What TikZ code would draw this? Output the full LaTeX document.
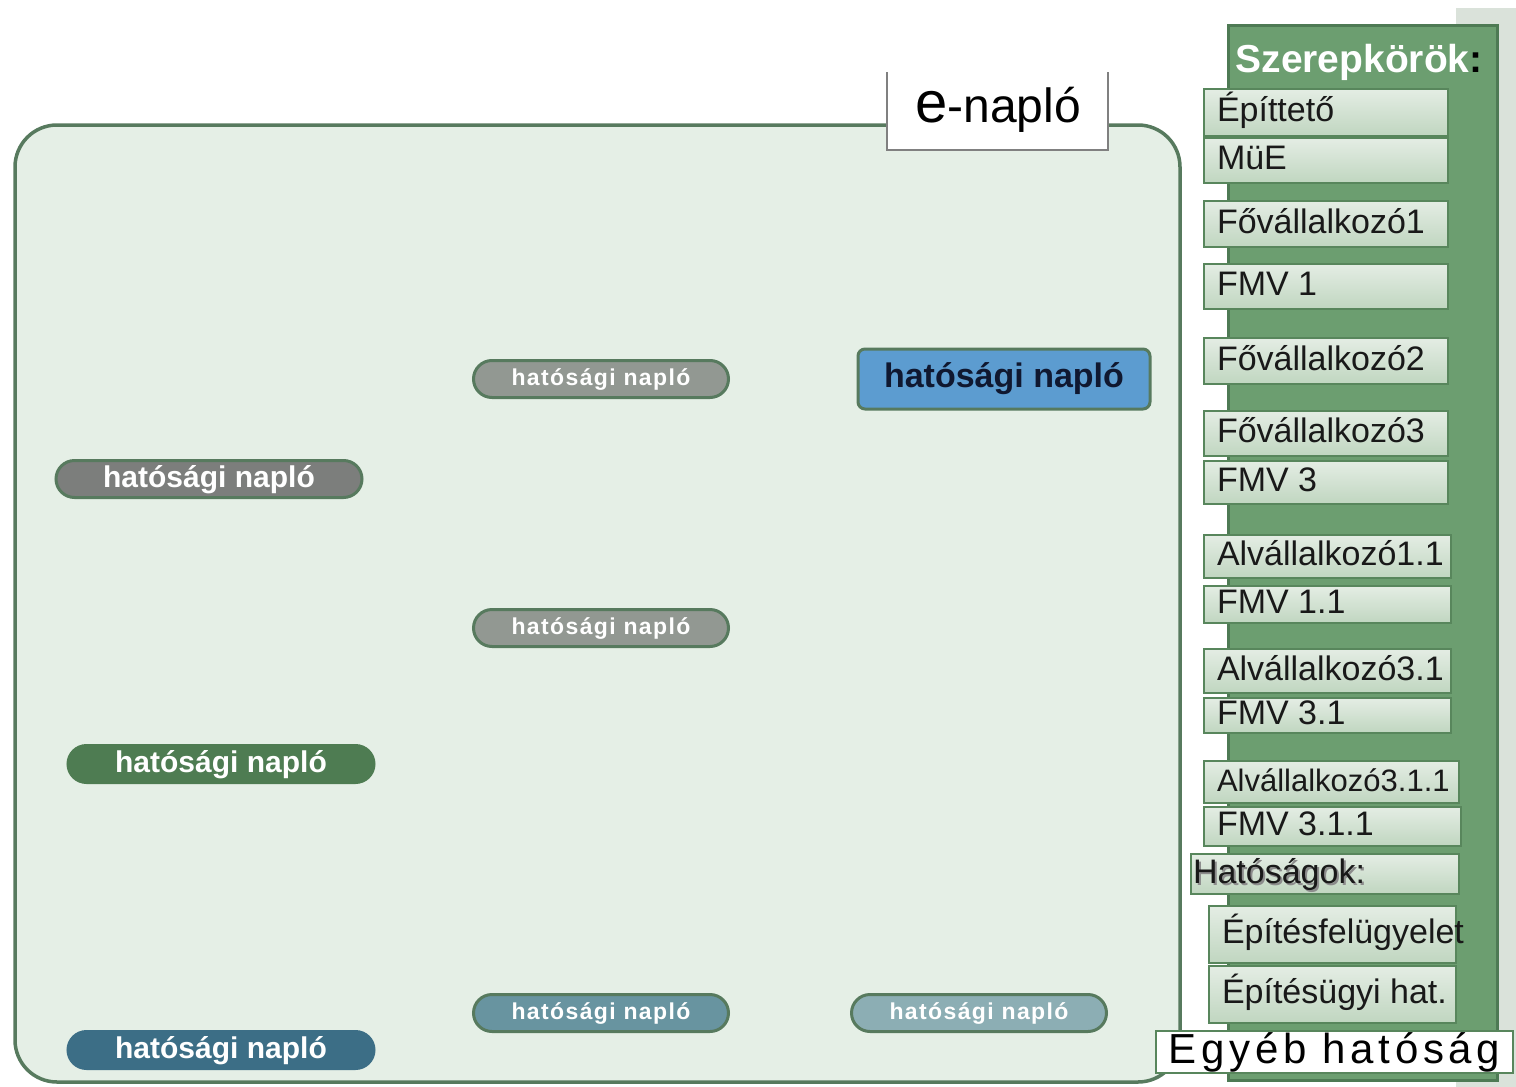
\documentclass[tikz,border=0pt]{standalone}
\usepackage{fontspec}
\setmainfont{Liberation Sans}
\usetikzlibrary{shapes.misc}
\definecolor{stripgray}{RGB}{218,226,218}
\definecolor{bggreen}{RGB}{229,239,230}
\definecolor{rim}{RGB}{87,122,94}
\definecolor{panel}{RGB}{108,158,112}
\definecolor{panelrim}{RGB}{78,122,84}
\definecolor{roletop}{RGB}{228,237,228}
\definecolor{rolebot}{RGB}{192,214,192}
\definecolor{rolerim}{RGB}{88,134,92}
\definecolor{pillgray}{RGB}{146,152,146}
\definecolor{pilldark}{RGB}{124,126,124}
\definecolor{pillgreen}{RGB}{78,124,82}
\definecolor{pillteal}{RGB}{104,148,160}
\definecolor{pilllight}{RGB}{140,174,180}
\definecolor{pilldeep}{RGB}{60,110,134}
\definecolor{boxblue}{RGB}{92,156,208}
\definecolor{textnavy}{RGB}{16,24,48}
\begin{document}
\begin{tikzpicture}[x=1pt,y=-1pt,
    pill/.style={rounded rectangle, draw=rim, line width=3pt, minimum width=255pt, minimum height=37pt, inner sep=0pt,
      text=white, text height=17pt, text depth=5pt, font=\bfseries\fontsize{23}{25}\selectfont\addfontfeatures{LetterSpace=6}},
    bigpill/.style={pill, minimum width=306pt, font=\bfseries\fontsize{30}{32}\selectfont, text height=22pt, text depth=6pt},
    role/.style={draw=rolerim, line width=2pt, top color=roletop, bottom color=rolebot, inner sep=0pt,
      text height=24pt, text depth=6pt, font=\fontsize{34}{36}\selectfont, text=black!90}]
    \useasboundingbox (0,0) rectangle (1516,1087);
    % background pieces
    \fill[stripgray] (1456,8) rectangle (1516,1087);
    \draw[rim, line width=3.5pt, fill=bggreen, rounded corners=42pt] (15,125) rectangle (1180,1082);
    \fill[white] (887,72) rectangle (1108,150);
    \draw[gray, line width=1.2pt] (887,72) |- (1108,150) -- (1108,72);
    \node (title) at (998,110) {\fontsize{58}{60}\selectfont e\fontsize{48}{50}\selectfont -napló};
    % roles panel
    \draw[panelrim, line width=3pt, fill=panel] (1228,25) rectangle (1497,1080);
    \node[anchor=west, text=white, font=\bfseries\fontsize{39}{41}\selectfont] (szerep) at (1232,62) {Szerepkörök\textcolor{black}{:}};
    \foreach \n/\x/\yt/\h/\w/\t [evaluate=\w as \tw using \w-26] in {
        epit/1203/88/47/244/Építtető,
        mue/1203/137/45/244/MüE,
        fov1/1203/200/46/244/Fővállalkozó1,
        fmv1/1203/263/45/244/FMV 1,
        fov2/1203/337/46/244/Fővállalkozó2,
        fov3/1203/410/45/244/Fővállalkozó3,
        fmv3/1203/460/43/244/FMV 3,
        alv11/1203/534/43/247/Alvállalkozó1.1,
        fmv11/1203/585/37/247/FMV 1.1,
        alv31/1203/648/44/247/Alvállalkozó3.1,
        fmv31/1203/697/35/247/FMV 3.1,
        fmv311/1203/806/39/257/FMV 3.1.1,
        efel/1208/905/57/247/Építésfelügyelet,
        ehat/1208/965/57/247/Építésügyi hat.}
      \node[role, anchor=north west, minimum width=\w pt, minimum height=\h pt] (\n) at (\x,\yt) {\makebox[\tw pt][l]{\t}};
    \node[role, anchor=north west, minimum width=255pt, minimum height=42pt,
      font=\fontsize{31}{33}\selectfont] (alv311) at (1203,760) {\makebox[229pt][l]{Alvállalkozó3.1.1}};
    \node[role, anchor=north west, minimum width=268pt, minimum height=40pt] (hat) at (1190,853)
      {\makebox[264pt][l]{\rlap{\kern2pt\raisebox{-2.5pt}{\textcolor{black!45}{Hatóságok:}}}Hatóságok:}};
    \node[draw=rolerim, line width=2pt, fill=white, anchor=north west, minimum width=357pt, minimum height=42pt, inner sep=0pt,
      text height=31pt, text depth=9pt, font=\fontsize{42}{44}\selectfont\addfontfeatures{LetterSpace=11}] (egyeb) at (1155,1030) {Egyéb hatóság};
    % naplok
    \node[pill, fill=pillgray] (hn1) at (601,379) {hatósági napló};
    \node[pill, fill=pillgray] (hn2) at (601,628) {hatósági napló};
    \node[pill, fill=pillteal] (hn3) at (601,1013) {hatósági napló};
    \node[pill, fill=pilllight] (hn4) at (979,1013) {hatósági napló};
    \node[bigpill, fill=pilldark] (hn5) at (209,479) {hatósági napló};
    \node[bigpill, fill=pillgreen, draw=pillgreen] (hn6) at (221,764) {hatósági napló};
    \node[bigpill, fill=pilldeep, draw=pilldeep] (hn7) at (221,1050) {hatósági napló};
    \node[draw=rim, line width=3pt, fill=boxblue, rounded corners=7pt, minimum width=292pt, minimum height=60pt, inner sep=0pt,
      text=textnavy, font=\bfseries\fontsize{34}{36}\selectfont] (hnmain) at (1004,379) {hatósági napló};
\end{tikzpicture}
\end{document}
